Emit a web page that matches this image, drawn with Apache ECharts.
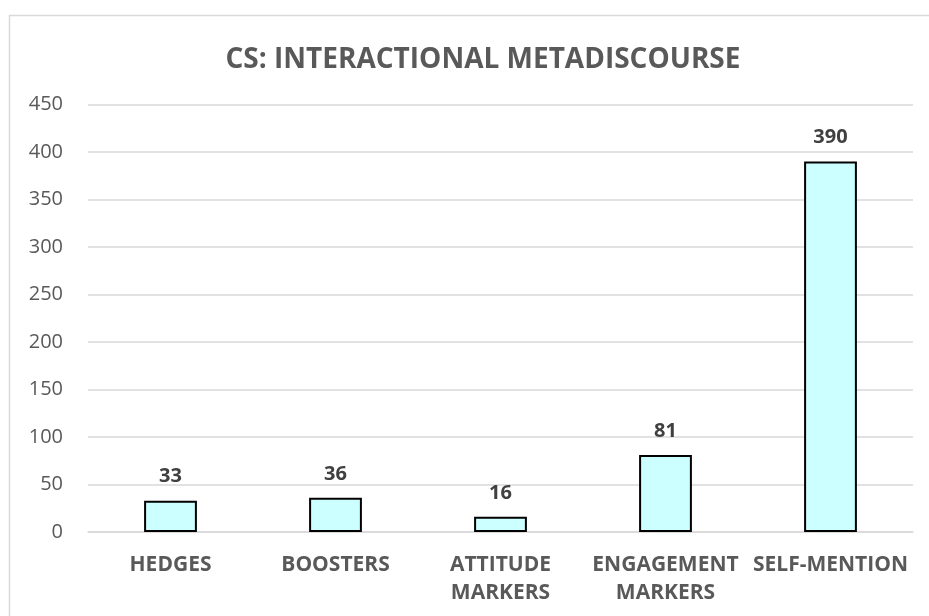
<!DOCTYPE html>
<html>
<head>
<meta charset="utf-8">
<script src="https://cdn.jsdelivr.net/npm/echarts@6/dist/echarts.min.js"></script>
<style>html,body{margin:0;padding:0;background:#fff;}#c{width:929px;height:616px;}</style>
</head>
<body>
<div id="c"></div>
<script>
const categories = ['HEDGES', 'BOOSTERS', 'ATTITUDE\nMARKERS', 'ENGAGEMENT\nMARKERS', 'SELF-MENTION'];
const values = [33, 36, 16, 81, 390];
const yTicks = { min: 0, max: 450, interval: 50 };
const titleText = 'CS: INTERACTIONAL METADISCOURSE';

const FONT = '"Open Sans", sans-serif';
const chart = echarts.init(document.getElementById('c'));
chart.setOption({
  animation: false,
  backgroundColor: '#ffffff',
  graphic: [{
    type: 'rect', left: 7, top: 13, silent: true,
    shape: { width: 960, height: 640 },
    style: { fill: 'none', stroke: '#d9d9d9', lineWidth: 1.5 }
  }],
  title: {
    text: titleText, left: 478, top: 41, textAlign: 'center',
    textStyle: { fontFamily: FONT, fontWeight: 'bold', fontSize: 28, color: '#595959' }
  },
  grid: { left: 88, right: 16, top: 104.5, bottom: 84 },
  xAxis: {
    type: 'category', data: categories,
    axisLine: { show: true, lineStyle: { color: '#d9d9d9', width: 1.5 } },
    axisTick: { show: false },
    axisLabel: { interval: 0, margin: 19, fontFamily: FONT, fontWeight: 'bold', fontSize: 21, color: '#595959', lineHeight: 28 }
  },
  yAxis: {
    type: 'value', min: yTicks.min, max: yTicks.max, interval: yTicks.interval,
    axisLine: { show: false }, axisTick: { show: false },
    splitLine: { lineStyle: { color: '#d9d9d9', width: 1.5 } },
    axisLabel: { margin: 25, fontFamily: FONT, fontSize: 20, color: '#595959' }
  },
  series: [{
    type: 'bar', data: values, barWidth: '32%',
    itemStyle: { color: '#ccffff', borderColor: '#000000', borderWidth: 2 },
    label: { show: true, position: 'top', distance: 14, fontFamily: FONT, fontWeight: 'bold', fontSize: 20, color: '#404040' }
  }]
});
</script>
</body>
</html>
